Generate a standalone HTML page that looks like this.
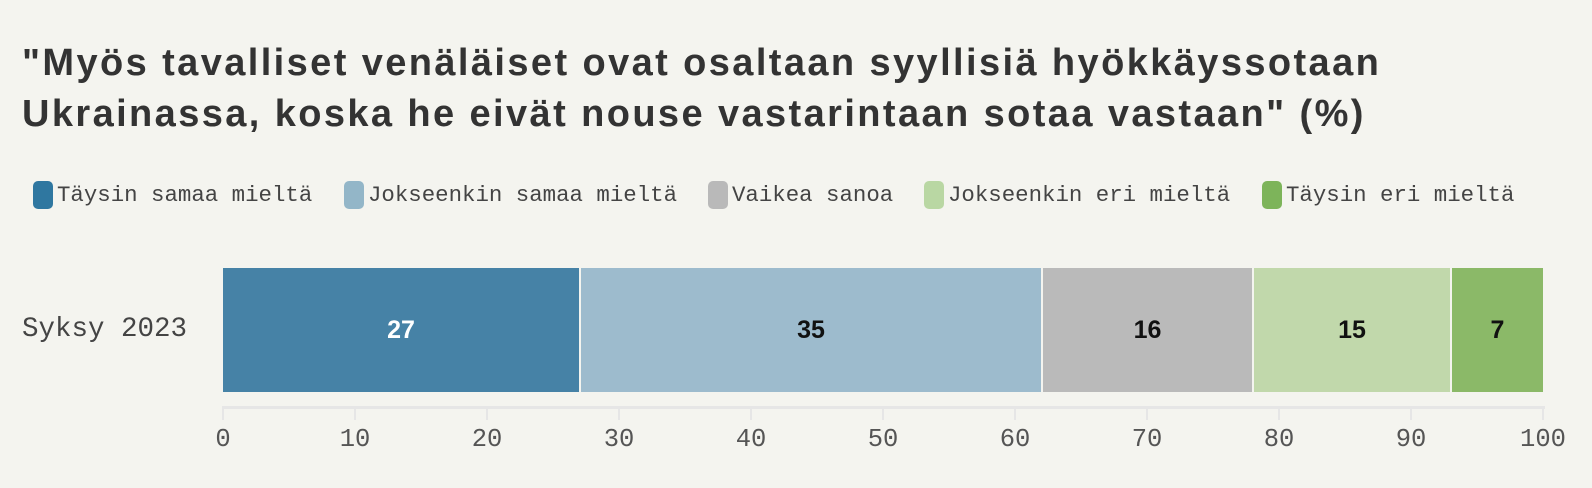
<!DOCTYPE html>
<html><head><meta charset="utf-8"><style>
body{margin:0;width:1592px;height:488px;background:#f4f4ef;overflow:hidden;position:relative;font-family:"Liberation Mono",monospace;color:#444}
.t{position:absolute;left:22px;top:38px;font:bold 38px/51px "Liberation Sans",sans-serif;color:#333;letter-spacing:2.4px}
.lg{position:absolute;top:180px;height:30px;display:flex;align-items:center;font-size:22.4px;color:#444}
.lg span.s{width:20px;height:28px;border-radius:5px;display:inline-block;margin-right:4px}
.bar{position:absolute;top:268px;height:124px;display:flex;align-items:center;justify-content:center;font:bold 25px "Liberation Sans",sans-serif;color:#111}
.tk{position:absolute;top:408px;width:2px;height:12px;background:#e6e6e6}
.tl{position:absolute;top:425px;width:80px;margin-left:-40px;text-align:center;font-size:25.5px;color:#555}
</style></head><body>
<div class="t">"Myös tavalliset venäläiset ovat osaltaan syyllisiä hyökkäyssotaan<br>Ukrainassa, koska he eivät nouse vastarintaan sotaa vastaan" (%)</div>
<div class="lg" style="left:33px"><span class="s" style="background:#2f77a0"></span>Täysin samaa mieltä</div>
<div class="lg" style="left:344px"><span class="s" style="background:#93b6c8"></span>Jokseenkin samaa mieltä</div>
<div class="lg" style="left:708px"><span class="s" style="background:#b9b9b9"></span>Vaikea sanoa</div>
<div class="lg" style="left:924px"><span class="s" style="background:#b9d7a3"></span>Jokseenkin eri mieltä</div>
<div class="lg" style="left:1262px"><span class="s" style="background:#7db45a"></span>Täysin eri mieltä</div>
<div style="position:absolute;left:22px;top:314px;font-size:27.5px;color:#444">Syksy 2023</div>
<div class="bar" style="left:223px;width:356px;background:#4682a6;color:#fff">27</div>
<div class="bar" style="left:581px;width:460px;background:#9dbbcd">35</div>
<div class="bar" style="left:1043px;width:209px;background:#bababa">16</div>
<div class="bar" style="left:1254px;width:196px;background:#c1d8ab">15</div>
<div class="bar" style="left:1452px;width:91px;background:#8bb968">7</div>
<div style="position:absolute;left:222px;top:406px;width:1323px;height:3px;background:#e6e6e6"></div>
<div class="tk" style="left:222px"></div><div class="tk" style="left:354px"></div><div class="tk" style="left:486px"></div><div class="tk" style="left:618px"></div><div class="tk" style="left:750px"></div><div class="tk" style="left:882px"></div><div class="tk" style="left:1014px"></div><div class="tk" style="left:1146px"></div><div class="tk" style="left:1278px"></div><div class="tk" style="left:1410px"></div><div class="tk" style="left:1542px"></div>
<div class="tl" style="left:223px">0</div><div class="tl" style="left:355px">10</div><div class="tl" style="left:487px">20</div><div class="tl" style="left:619px">30</div><div class="tl" style="left:751px">40</div><div class="tl" style="left:883px">50</div><div class="tl" style="left:1015px">60</div><div class="tl" style="left:1147px">70</div><div class="tl" style="left:1279px">80</div><div class="tl" style="left:1411px">90</div><div class="tl" style="left:1543px">100</div>
</body></html>
